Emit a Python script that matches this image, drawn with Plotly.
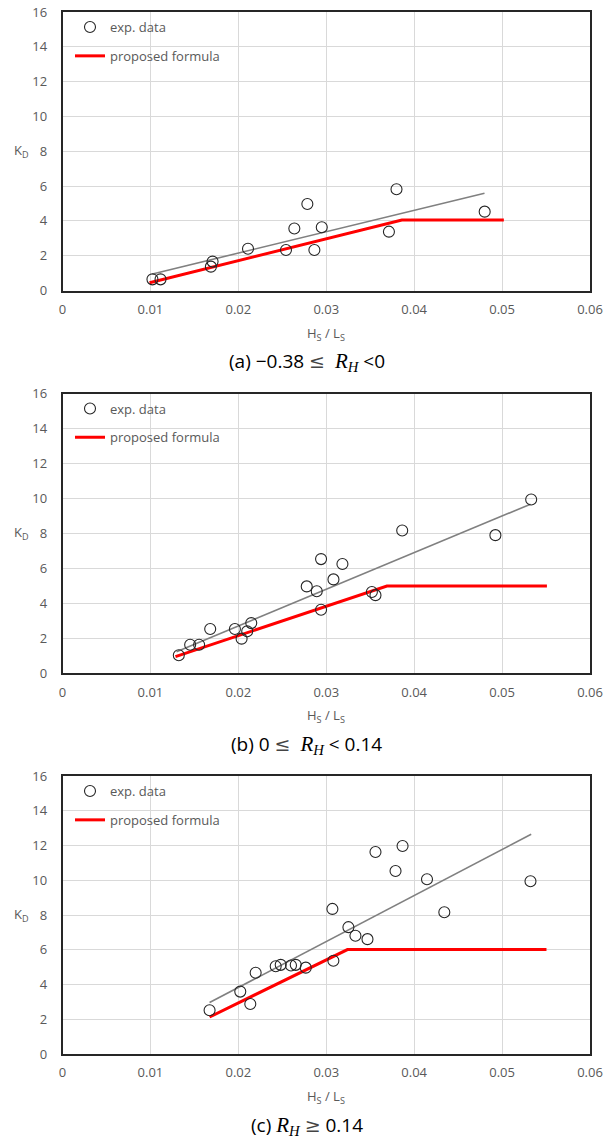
import plotly.graph_objects as go

# ---------------- data ----------------
# (a) -0.38 <= R_H < 0
a_exp_x = [0.01023, 0.01115, 0.01688, 0.01707, 0.0211, 0.02542, 0.02637, 0.02785, 0.02865, 0.02949, 0.03713, 0.03799, 0.04802]
a_exp_y = [0.64, 0.64, 1.37, 1.66, 2.40, 2.33, 3.56, 4.97, 2.33, 3.63, 3.38, 5.82, 4.53]
a_fit_x = [0.01023, 0.0480]
a_fit_y = [0.95, 5.59]
a_formula_x = [0.0099, 0.0386, 0.0502]
a_formula_y = [0.45, 4.05, 4.05]

# (b) 0 <= R_H < 0.14
b_exp_x = [0.01323, 0.01452, 0.01554, 0.0168, 0.01961, 0.02037, 0.02101, 0.02147, 0.02778, 0.02892,
           0.02941, 0.02941, 0.03082, 0.03184, 0.03519, 0.0356, 0.03864, 0.04924, 0.05331]
b_exp_y = [1.03, 1.63, 1.63, 2.53, 2.53, 1.98, 2.40, 2.87, 4.97, 4.69,
           6.53, 3.63, 5.37, 6.25, 4.65, 4.47, 8.17, 7.90, 9.94]
b_fit_x = [0.01297, 0.05323]
b_fit_y = [1.23, 9.67]
b_formula_x = [0.01285, 0.0369, 0.0551]
b_formula_y = [0.95, 4.99, 4.99]

# (c) R_H >= 0.14
c_exp_x = [0.01673, 0.02022, 0.02136, 0.02197, 0.02425, 0.02482, 0.02599, 0.02653, 0.02767, 0.0307,
           0.03081, 0.03252, 0.03332, 0.03469, 0.0356, 0.03788, 0.03868, 0.04146, 0.04343, 0.05323]
c_exp_y = [2.52, 3.59, 2.88, 4.68, 5.05, 5.13, 5.09, 5.13, 4.97, 8.35,
           5.37, 7.30, 6.81, 6.61, 11.63, 10.53, 11.97, 10.06, 8.16, 9.94]
c_fit_x = [0.01673, 0.05331]
c_fit_y = [2.96, 12.65]
c_formula_x = [0.01673, 0.03241, 0.05505]
c_formula_y = [2.13, 6.01, 6.01]

x_ticks = [0, 0.01, 0.02, 0.03, 0.04, 0.05, 0.06]
x_tick_text = ["0", "0.01", "0.02", "0.03", "0.04", "0.05", "0.06"]
y_ticks = [0, 2, 4, 6, 8, 10, 12, 14, 16]

LE = "<span style='font-family:\"DejaVu Serif\";color:#444'>\u2264</span>"
GE = "<span style='font-family:\"DejaVu Serif\";color:#444'>\u2265</span>"
RH = "<span style='font-family:\"Liberation Serif\";font-size:21px'><i>R<sub>H</sub></i></span>"
captions = [
    f"(a) \u22120.38 {LE}  {RH} &lt;0",
    f"(b) 0 {LE}  {RH} &lt; 0.14",
    f"(c) {RH} {GE} 0.14",
]

# ---------------- layout geometry (pixels) ----------------
W, H = 613, 1141
FONT = "Open Sans"
GREY_TXT = "#595959"
panels = [
    dict(top=12, bottom=290.5, data=(a_exp_x, a_exp_y, a_fit_x, a_fit_y, a_formula_x, a_formula_y)),
    dict(top=393.5, bottom=673.3, data=(b_exp_x, b_exp_y, b_fit_x, b_fit_y, b_formula_x, b_formula_y)),
    dict(top=776, bottom=1054, data=(c_exp_x, c_exp_y, c_fit_x, c_fit_y, c_formula_x, c_formula_y)),
]
x_left, x_right = 62.5, 590


def py(p):
    return 1 - p / H


fig = go.Figure()
annotations = []
layout = dict(
    width=W, height=H,
    margin=dict(l=0, r=0, t=0, b=0, autoexpand=False),
    paper_bgcolor="white", plot_bgcolor="white",
    showlegend=True,
)

for i, p in enumerate(panels):
    n = "" if i == 0 else str(i + 1)
    ex, ey, fx, fy, rx, ry = p["data"]
    leg = "legend" if i == 0 else f"legend{i + 1}"
    xa = "x" + n
    ya = "y" + n
    fig.add_trace(go.Scatter(
        x=fx, y=fy, mode="lines", line=dict(color="#808080", width=1.6),
        showlegend=False, xaxis=xa, yaxis=ya, hoverinfo="skip"))
    fig.add_trace(go.Scatter(
        x=rx, y=ry, mode="lines", line=dict(color="#ff0000", width=3),
        name="proposed formula", legend=leg, legendgroup=f"f{i}", legendrank=2,
        xaxis=xa, yaxis=ya))
    fig.add_trace(go.Scatter(
        x=ex, y=ey, mode="markers",
        marker=dict(symbol="circle-open", size=11, color="#262626", line=dict(width=1.1)),
        name="exp. data", legend=leg, legendgroup=f"e{i}", legendrank=1,
        xaxis=xa, yaxis=ya))

    layout["xaxis" + n] = dict(
        domain=[x_left / W, x_right / W], range=[0, 0.06], anchor=ya, automargin=False,
        tickvals=x_ticks, ticktext=x_tick_text, showgrid=True, gridcolor="#d9d9d9", gridwidth=1,
        showline=True, linecolor="#262626", linewidth=1.5, mirror=True, ticks="",
        zeroline=False, tickfont=dict(family=FONT, size=13, color=GREY_TXT), ticklabelstandoff=6,
    )
    layout["yaxis" + n] = dict(
        domain=[py(p["bottom"]), py(p["top"])], range=[0, 16], anchor=xa, automargin=False,
        tickvals=y_ticks, showgrid=True, gridcolor="#d9d9d9", gridwidth=1,
        showline=True, linecolor="#262626", linewidth=1.5, mirror=True, ticks="",
        zeroline=False, tickfont=dict(family=FONT, size=13, color=GREY_TXT), ticklabelstandoff=11,
    )
    layout[leg] = dict(
        x=70 / W, y=py(p["top"]), xanchor="left", yanchor="top",
        bgcolor="rgba(0,0,0,0)", traceorder="grouped", tracegroupgap=9,
        font=dict(family=FONT, size=13, color=GREY_TXT), itemwidth=30,
    )
    # axis titles
    annotations.append(dict(
        x=21 / W, y=py((p["top"] + p["bottom"]) / 2), xref="paper", yref="paper",
        text="K<sub>D</sub>", showarrow=False, xanchor="center", yanchor="middle",
        font=dict(family=FONT, size=13, color=GREY_TXT)))
    annotations.append(dict(
        x=(x_left + x_right) / 2 / W, y=py(p["bottom"] + 43), xref="paper", yref="paper",
        text="H<sub>S</sub> / L<sub>S</sub>", showarrow=False, xanchor="center", yanchor="middle",
        font=dict(family=FONT, size=13, color=GREY_TXT)))
    annotations.append(dict(
        x=307 / W, y=py(p["bottom"] + 71), xref="paper", yref="paper",
        text=captions[i], showarrow=False, xanchor="center", yanchor="middle",
        font=dict(family=FONT, size=19, color="black")))

layout["annotations"] = annotations
fig.update_layout(**layout)
fig.write_html(
    "out.html",
    config={"displayModeBar": False},
    post_script="document.body.style.margin='0';document.body.style.overflow='hidden';",
)
